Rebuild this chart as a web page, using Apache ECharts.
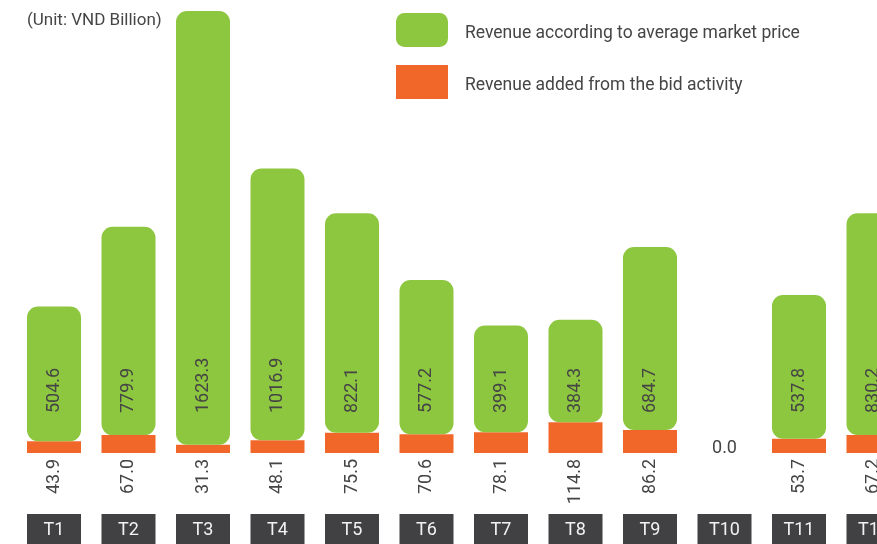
<!DOCTYPE html>
<html>
<head>
<meta charset="utf-8">
<script src="https://cdn.jsdelivr.net/npm/echarts@6/dist/echarts.min.js"></script>
<style>
html,body{margin:0;padding:0;background:#fff;}
#chart{width:877px;height:544px;}
</style>
</head>
<body>
<div id="chart"></div>
<script>
const categories = ['T1','T2','T3','T4','T5','T6','T7','T8','T9','T10','T11','T12'];
const marketRevenue = [504.6, 779.9, 1623.3, 1016.9, 822.1, 577.2, 399.1, 384.3, 684.7, null, 537.8, 830.2];
const bidRevenue = [43.9, 67.0, 31.3, 48.1, 75.5, 70.6, 78.1, 114.8, 86.2, 0.0, 53.7, 67.2];
const seriesNames = ['Revenue according to average market price', 'Revenue added from the bid activity'];
const unitText = '(Unit: VND Billion)';

const FONT = "Roboto, sans-serif";
const GREEN = '#8DC63F';
const ORANGE = '#F1672A';
const TEXT = '#454545';

const chart = echarts.init(document.getElementById('chart'), null, {renderer: 'canvas'});

const bidData = bidRevenue.map((v, i) => {
  if (v === 0) {
    return {value: v, label: {rotate: 0, position: 'top', align: 'center', verticalAlign: 'bottom', distance: -4}};
  }
  return v;
});

chart.setOption({
  animation: false,
  textStyle: {fontFamily: FONT},
  graphic: [{
    type: 'text', left: 27, top: 12,
    style: {text: unitText, font: '17px ' + FONT, fill: TEXT}
  }],
  legend: {
    orient: 'vertical', left: 396, top: 13, padding: 0,
    itemWidth: 52, itemHeight: 34, itemGap: 18,
    formatter: '{t|{name}}',
    textStyle: {
      fontFamily: FONT, fontSize: 17.5, color: TEXT, padding: [0, 0, 0, 12],
      rich: {t: {fontFamily: FONT, fontSize: 17.5, color: TEXT, padding: [8, 0, 0, 0]}}
    },
    data: [{name: seriesNames[0], icon: 'roundRect'}, {name: seriesNames[1], icon: 'rect'}]
  },
  grid: {left: 16.75, right: -33.75, top: -1, bottom: 91, containLabel: false, outerBoundsMode: 'none'},
  xAxis: {
    type: 'category', data: categories,
    axisLine: {show: false}, axisTick: {show: false},
    axisLabel: {
      margin: 61, interval: 0,
      color: '#f2f2f2', fontFamily: FONT, fontSize: 18, lineHeight: 24,
      backgroundColor: '#414042', width: 54, padding: [4, 0, 4, 0], align: 'center'
    }
  },
  yAxis: {type: 'value', min: 0, max: 1700, show: false, splitLine: {show: false}},
  series: [
    {
      name: seriesNames[1], type: 'bar', stack: 'rev', barWidth: 54,
      data: bidData,
      itemStyle: {color: ORANGE},
      label: {
        show: true, position: 'bottom', distance: 6, rotate: 90,
        align: 'right', verticalAlign: 'middle',
        fontFamily: FONT, fontSize: 18, color: TEXT,
        formatter: p => Number(p.value).toFixed(1)
      }
    },
    {
      name: seriesNames[0], type: 'bar', stack: 'rev', barWidth: 54,
      data: marketRevenue.map(v => v == null ? '-' : v),
      itemStyle: {color: GREEN, borderRadius: 11}
    },
    {
      name: 'labels', type: 'bar', barWidth: 54, barGap: '-100%',
      data: marketRevenue.map(v => v == null ? '-' : 0),
      itemStyle: {color: 'transparent'},
      silent: true,
      label: {
        show: true, position: 'insideBottom', distance: 40, rotate: 90,
        align: 'left', verticalAlign: 'middle',
        fontFamily: FONT, fontSize: 18, color: TEXT,
        formatter: p => marketRevenue[p.dataIndex].toFixed(1)
      }
    }
  ]
});
</script>
</body>
</html>
